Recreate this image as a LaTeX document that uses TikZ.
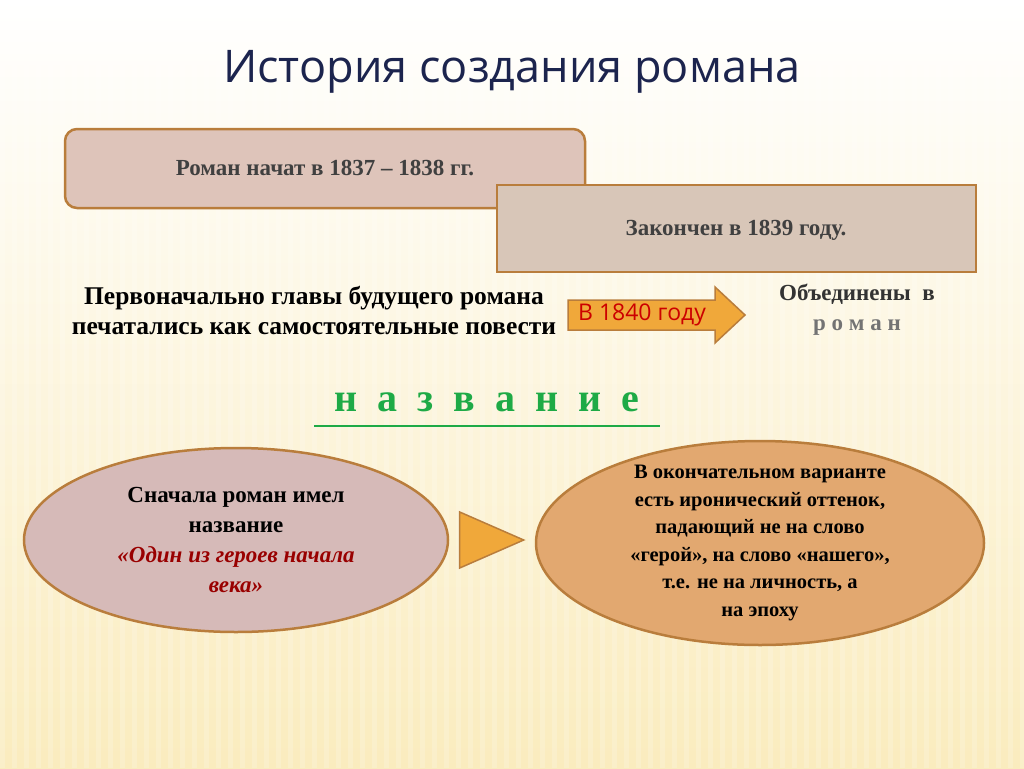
\documentclass[tikz,border=0pt]{standalone}
\usepackage{fontspec}
\setmainfont{Liberation Serif}
\newfontfamily\titlefont{Open Sans}
\usetikzlibrary{shapes.geometric}
\definecolor{edgebrown}{RGB}{185,125,60}
\definecolor{boxpink}{RGB}{222,196,186}
\definecolor{boxtan}{RGB}{216,198,184}
\definecolor{ovalpink}{RGB}{214,186,184}
\definecolor{ovalorange}{RGB}{226,168,112}
\definecolor{arroworange}{RGB}{240,168,58}
\definecolor{titleblue}{RGB}{28,36,78}
\definecolor{wordgreen}{RGB}{30,170,70}
\tikzset{
    infobox/.style={draw=edgebrown, line width=2.5pt, font=\bfseries\fontsize{23}{28}\selectfont, text=black!75},
    oval/.style={ellipse, draw=edgebrown, line width=2.5pt, align=center},
    plain/.style={align=center, font=\bfseries\fontsize{23}{30}\selectfont}
}
\begin{document}
\begin{tikzpicture}[x=1pt, y=-1pt]
    \useasboundingbox (0,0) rectangle (1024,768);
    \shade[top color=white, bottom color={rgb,255:red,250;green,236;blue,190}] (0,0) rectangle (1024,768);
    \foreach \i in {0,12,...,1020} \fill[white, opacity=0.18] (\i,0) rectangle (\i+5,768);

    \node[font=\titlefont\fontsize{45}{52}\selectfont, text=titleblue] (title) at (512,72) {История создания романа};

    \draw[infobox, fill=boxpink, rounded corners=12pt] (65,129) rectangle (585,208);
    \node[infobox, draw=none] (start) at (325,168) {Роман начат в 1837 – 1838 гг.};
    \draw[infobox, fill=boxtan] (497,185) rectangle (976,272);
    \node[infobox, draw=none] (end) at (736,230) {Закончен в 1839 году.};

    \node[plain, font=\bfseries\fontsize{25.5}{30}\selectfont] (chapters) at (314,310) {Первоначально главы будущего романа\\печатались как самостоятельные повести};
    \draw[edgebrown, line width=1.5pt, fill=arroworange, line join=miter]
        (568,300) -- (715,300) -- (715,287) -- (745,315) -- (715,343) -- (715,330) -- (568,330) -- cycle;
    \node[text=red!80!black, font=\titlefont\fontsize{23}{24}\selectfont] (year) at (642,315) {В 1840 году};
    \node[plain, text=black!80] (united) at (857,310) {Объединены \ в\\{\color{black!55}р о м а н}};

    \node[font=\bfseries\fontsize{40}{44}\selectfont, text=wordgreen] (name) at (487,402) {н\ \ а\ \ з\ \ в\ \ а\ \ н\ \ и\ \ е};
    \draw[wordgreen, line width=2.5pt] (314,426) -- (660,426);

    \node[oval, fill=ovalpink, minimum width=424pt, minimum height=184pt] (first) at (236,540) {};
    \node[plain] (firsttext) at (236,540) {Сначала роман имел\\название\\{\color{red!60!black}\itshape«Один из героев начала}\\{\color{red!60!black}\itshape века»}};
    \node[isosceles triangle, draw=edgebrown, line width=1.5pt, fill=arroworange, minimum height=64pt, minimum width=56pt,
          isosceles triangle stretches, inner sep=0pt] (pointer) at (478,540) {};
    \node[oval, fill=ovalorange, minimum width=448pt, minimum height=204pt] (final) at (760,543) {};
    \node[font=\bfseries\fontsize{20.5}{27.5}\selectfont, align=center] (finaltext) at (760,543) {В окончательном варианте\\есть иронический оттенок,\\падающий не на слово\\«герой», на слово «нашего»,\\т.е. не на личность, а\\на эпоху};
\end{tikzpicture}
\end{document}
